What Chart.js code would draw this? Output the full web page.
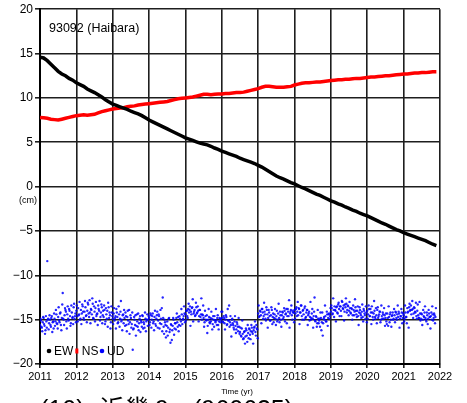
<!DOCTYPE html>
<html>
<head>
<meta charset="utf-8">
<script src="https://cdn.jsdelivr.net/npm/chart.js@4.4.1/dist/chart.umd.min.js"></script>
<style>
  html, body { margin: 0; padding: 0; background: #fff; overflow: hidden; }
  #wrap { position: relative; width: 467px; height: 403px; }
</style>
</head>
<body>
<div id="wrap"><canvas id="grafico" width="467" height="403"></canvas></div>
<script>
const estacao = "93092 (Haibara)";
const legenda = ["EW", "NS", "UD"];
const anosEixo = [2011, 2012, 2013, 2014, 2015, 2016, 2017, 2018, 2019, 2020, 2021, 2022];
const cmEixo = [20, 15, 10, 5, 0, -5, -10, -15, -20];

// EW / NS: one reading every 0.1 yr starting 2011.0
const inicio = 2011.0;
const passoHorizontal = 0.1;
const ewValores = [
  14.6, 14.5, 14.2, 13.8, 13.4, 13.0, 12.7, 12.5, 12.2, 12.0,
  11.7, 11.5, 11.3, 11.0, 10.8, 10.6, 10.35, 10.1, 9.8, 9.55,
  9.3, 9.15, 9.0, 8.85, 8.7, 8.5, 8.35, 8.2, 8.0, 7.75,
  7.5, 7.3, 7.1, 6.9, 6.7, 6.5, 6.3, 6.1, 5.9, 5.7,
  5.5, 5.35, 5.2, 5.05, 4.9, 4.8, 4.7, 4.55, 4.35, 4.2,
  4.0, 3.85, 3.7, 3.55, 3.4, 3.2, 3.05, 2.9, 2.75, 2.6,
  2.4, 2.2, 1.95, 1.7, 1.45, 1.2, 1.0, 0.85, 0.65, 0.45,
  0.3, 0.1, -0.1, -0.25, -0.45, -0.65, -0.85, -1.0, -1.2, -1.4,
  -1.6, -1.75, -1.95, -2.1, -2.3, -2.45, -2.65, -2.8, -3.0, -3.15,
  -3.3, -3.5, -3.7, -3.9, -4.1, -4.25, -4.45, -4.65, -4.85, -5.0,
  -5.2, -5.35, -5.5, -5.65, -5.8, -5.95, -6.1, -6.3, -6.5, -6.65
];
const nsValores = [
  7.8, 7.75, 7.7, 7.6, 7.55, 7.5, 7.6, 7.7, 7.8, 7.9,
  8.0, 8.05, 8.1, 8.05, 8.1, 8.15, 8.3, 8.45, 8.55, 8.65,
  8.75, 8.8, 8.85, 8.9, 9.0, 9.05, 9.1, 9.2, 9.25, 9.3,
  9.35, 9.4, 9.45, 9.5, 9.55, 9.6, 9.7, 9.8, 9.9, 9.95,
  10.0, 10.05, 10.1, 10.2, 10.3, 10.4, 10.4, 10.35, 10.4, 10.45,
  10.45, 10.5, 10.5, 10.55, 10.6, 10.6, 10.65, 10.75, 10.85, 10.95,
  11.05, 11.2, 11.3, 11.3, 11.25, 11.2, 11.2, 11.2, 11.25, 11.3,
  11.45, 11.55, 11.65, 11.7, 11.7, 11.75, 11.8, 11.8, 11.85, 11.9,
  11.95, 12.0, 12.05, 12.05, 12.1, 12.1, 12.15, 12.2, 12.2, 12.25,
  12.3, 12.35, 12.35, 12.4, 12.45, 12.5, 12.5, 12.55, 12.6, 12.65,
  12.7, 12.7, 12.75, 12.8, 12.8, 12.85, 12.85, 12.9, 12.95, 12.95
];

// UD: two interleaved sets, each one reading every 0.025 yr
const passoVertical = 0.025;
const udValores = [
  // 2011
  -15.6, -15.1, -15.9, -15.3, -14.8, -15.7, -16.2, -15.2, -8.4, -14.9,
  -15.4, -15.0, -15.8, -14.6, -15.3, -16.0, -14.9, -15.2, -14.4, -15.5,
  -14.7, -15.1, -14.3, -15.6, -14.8, -12.0, -15.0, -14.5, -13.9, -15.2,
  -14.4, -14.9, -13.8, -14.6, -15.4, -14.2, -14.7, -13.6, -14.9, -14.3,
  // 2012
  -14.0, -14.6, -13.7, -14.4, -15.0, -13.9, -14.3, -13.5, -14.8, -14.1,
  -13.6, -14.5, -14.0, -13.3, -14.7, -14.2, -13.8, -14.4, -13.2, -14.9,
  -14.1, -13.7, -14.6, -14.3, -13.4, -14.0, -15.1, -14.2, -13.6, -14.5,
  -14.7, -13.9, -15.2, -14.4, -14.0, -13.1, -14.8, -14.5, -15.3, -14.2,
  // 2013
  -14.9, -14.3, -15.1, -14.6, -13.8, -14.7, -15.3, -14.4, -14.9, -12.9,
  -15.0, -14.5, -15.4, -14.8, -14.2, -15.6, -14.7, -15.1, -13.9, -15.3,
  -14.8, -15.5, -18.4, -16.0, -15.0, -14.5, -15.7, -15.2, -14.3, -15.4,
  -14.6, -15.1, -15.8, -14.6, -15.3, -15.9, -14.9, -15.2, -14.4, -15.0,
  // 2014
  -14.8, -15.3, -14.5, -15.0, -14.3, -15.2, -14.7, -15.5, -14.9, -14.1,
  -15.1, -14.6, -15.4, -14.9, -13.7, -12.5, -15.8, -15.0, -15.6, -16.3,
  -15.2, -15.9, -14.8, -16.1, -15.5, -17.3, -15.7, -15.0, -16.0, -15.4,
  -14.8, -15.3, -14.7, -15.6, -14.9, -15.2, -14.4, -15.0, -14.6, -14.3,
  // 2015
  -14.4, -14.0, -14.6, -13.8, -14.2, -13.5, -14.1, -13.7, -12.7, -14.3,
  -13.9, -14.5, -13.6, -14.2, -14.0, -14.6, -13.9, -14.4, -15.0, -14.5,
  -14.8, -15.3, -14.6, -15.1, -16.5, -15.0, -14.7, -15.4, -15.2, -14.9,
  -15.5, -15.0, -14.6, -15.3, -15.1, -14.8, -15.6, -15.2, -14.9, -15.0,
  // 2016
  -14.8, -15.2, -14.6, -15.4, -15.0, -14.7, -15.5, -15.1, -13.4, -15.3,
  -15.6, -15.0, -15.4, -15.9, -15.2, -15.7, -16.1, -15.5, -16.3, -15.8,
  -16.4, -16.8, -16.0, -16.6, -17.1, -16.3, -16.9, -16.2, -17.5, -16.5,
  -16.0, -16.7, -16.3, -15.9, -16.6, -16.2, -15.8, -16.4, -15.6, -16.1,
  // 2017
  -14.3, -14.7, -14.0, -14.5, -13.8, -14.2, -14.6, -14.1, -14.9, -13.6,
  -14.4, -14.8, -14.2, -15.1, -14.5, -13.9, -14.7, -15.3, -14.4, -14.9,
  -14.6, -15.2, -14.3, -14.8, -14.1, -15.0, -14.5, -14.2, -14.7, -14.0,
  -14.4, -13.8, -14.6, -14.1, -12.8, -14.3, -13.9, -14.5, -14.0, -14.2,
  // 2018
  -13.9, -14.3, -13.6, -14.1, -14.5, -13.8, -14.2, -13.4, -14.6, -14.0,
  -14.4, -13.7, -14.8, -14.2, -13.9, -14.5, -14.1, -14.7, -15.0, -14.3,
  -14.9, -14.6, -12.5, -15.2, -14.7, -15.4, -14.9, -15.1, -15.8, -14.8,
  -15.3, -16.8, -14.9, -15.0, -14.6, -15.2, -14.4, -14.8, -14.3, -14.6,
  // 2019
  -14.1, -13.7, -14.3, -13.9, -13.5, -14.0, -13.6, -14.2, -13.3, -13.8,
  -13.5, -14.0, -12.9, -13.7, -13.4, -14.1, -13.6, -13.2, -13.9, -13.5,
  -14.0, -13.7, -14.3, -13.8, -14.5, -13.9, -14.1, -13.6, -14.4, -14.0,
  -14.6, -14.2, -13.9, -14.5, -14.1, -14.7, -13.8, -14.3, -14.9, -14.2,
  // 2020
  -14.0, -14.4, -13.8, -14.6, -14.2, -13.5, -14.7, -14.3, -14.0, -14.9,
  -14.5, -13.9, -14.8, -14.4, -14.1, -15.0, -14.6, -14.2, -14.9, -14.5,
  -14.8, -15.2, -14.3, -15.7, -14.7, -14.4, -15.0, -14.6, -14.2, -14.9,
  -14.5, -14.1, -14.8, -14.4, -14.7, -14.3, -14.9, -14.6, -14.2, -14.8,
  // 2021
  -14.5, -14.9, -14.2, -14.7, -13.7, -14.1, -13.6, -14.0, -13.4, -13.9,
  -13.8, -14.3, -13.7, -14.2, -14.6, -14.0, -14.5, -14.8, -14.3, -14.9,
  -14.4, -15.0, -14.6, -14.2, -14.8, -15.2, -14.5, -14.9, -14.3, -14.7,
  -14.6, -15.0, -14.4, -14.8, -14.5, -14.7
];
const udValoresB = [
  // 2011
  -14.9, -15.8, -16.3, -14.7, -15.5, -16.6, -14.6, -15.9, -15.0, -16.1,
  -14.5, -15.6, -14.8, -16.4, -15.2, -14.3, -15.7, -13.9, -15.4, -16.0,
  -13.6, -15.3, -14.2, -16.2, -13.3, -14.9, -15.6, -13.7, -14.1, -16.0,
  -13.5, -15.1, -14.0, -15.7, -13.4, -14.8, -15.5, -13.2, -14.6, -15.3,
  // 2012
  -13.4, -15.2, -14.5, -13.0, -14.9, -15.5, -13.3, -14.1, -15.0, -12.9,
  -14.6, -15.3, -13.1, -14.3, -12.8, -15.4, -13.9, -12.6, -14.8, -13.5,
  -15.2, -13.0, -14.4, -15.6, -13.8, -12.9, -14.7, -13.3, -15.4, -14.0,
  -13.4, -15.5, -13.7, -14.9, -15.8, -13.6, -14.2, -16.0, -13.5, -14.6,
  // 2013
  -15.5, -13.7, -14.8, -16.0, -14.2, -15.4, -13.5, -15.8, -14.1, -15.2,
  -16.2, -14.4, -13.9, -15.7, -14.6, -16.3, -14.0, -15.5, -16.6, -14.5,
  -15.9, -14.2, -16.1, -14.7, -15.6, -16.8, -14.4, -15.8, -16.2, -14.9,
  -16.4, -15.3, -14.5, -16.0, -15.5, -14.2, -16.3, -15.0, -15.7, -14.6,
  // 2014
  -15.6, -14.3, -15.9, -14.6, -15.4, -16.2, -14.0, -15.7, -14.5, -15.9,
  -14.4, -16.0, -13.9, -15.5, -16.3, -14.8, -16.6, -15.3, -17.0, -15.7,
  -16.8, -14.9, -16.4, -17.6, -15.6, -16.2, -14.8, -16.7, -15.4, -16.1,
  -14.3, -15.8, -16.3, -14.6, -15.7, -13.8, -15.5, -14.9, -13.5, -15.3,
  // 2015
  -15.1, -14.0, -14.8, -13.2, -13.9, -15.7, -14.4, -13.6, -15.2, -14.1,
  -14.6, -13.1, -14.3, -13.5, -15.2, -13.9, -14.7, -12.6, -14.4, -13.4,
  -15.8, -14.0, -15.0, -14.5, -15.7, -13.8, -15.3, -14.8, -14.1, -16.1,
  -14.6, -15.8, -15.1, -13.8, -15.6, -14.5, -16.1, -14.8, -15.3, -14.1,
  // 2016
  -14.1, -15.3, -14.8, -16.1, -14.5, -15.6, -13.8, -15.1, -15.8, -14.6,
  -16.9, -14.9, -15.6, -16.1, -14.6, -16.5, -15.3, -15.8, -14.8, -16.6,
  -15.9, -16.9, -15.1, -17.2, -16.4, -17.7, -16.0, -16.8, -15.6, -17.1,
  -16.1, -17.2, -15.6, -16.4, -17.7, -15.9, -15.2, -16.8, -16.0, -17.1,
  // 2017
  -13.4, -14.6, -14.1, -15.4, -13.8, -14.9, -13.1, -14.4, -15.1, -13.9,
  -15.9, -13.9, -14.6, -15.1, -13.6, -15.5, -14.3, -14.8, -13.8, -15.6,
  -14.0, -15.0, -13.2, -15.3, -14.5, -15.8, -14.1, -14.9, -13.7, -15.2,
  -14.3, -15.4, -13.8, -14.6, -15.9, -14.1, -13.4, -15.0, -14.2, -15.3,
  // 2018
  -14.9, -13.8, -14.6, -13.0, -13.7, -15.5, -14.2, -13.4, -15.0, -13.9,
  -15.0, -13.5, -14.7, -13.9, -15.6, -14.3, -15.1, -13.0, -14.8, -13.8,
  -15.9, -14.1, -15.1, -14.6, -15.8, -13.9, -15.4, -14.9, -14.2, -16.2,
  -14.2, -15.4, -14.7, -13.4, -15.2, -14.1, -15.7, -14.4, -14.9, -13.7,
  // 2019
  -13.4, -14.4, -12.6, -14.7, -13.9, -15.2, -13.5, -14.3, -13.1, -14.6,
  -13.5, -14.6, -13.0, -13.8, -15.1, -13.3, -12.6, -14.2, -13.4, -14.5,
  -13.0, -14.2, -13.7, -15.0, -13.4, -14.5, -12.7, -14.0, -14.7, -13.5,
  -15.6, -13.6, -14.3, -14.8, -13.3, -15.2, -14.0, -14.5, -13.5, -15.3,
  // 2020
  -14.9, -13.4, -14.6, -13.8, -15.5, -14.2, -15.0, -12.9, -14.7, -13.7,
  -15.4, -13.6, -14.6, -14.1, -15.3, -13.4, -14.9, -14.4, -13.7, -15.7,
  -14.3, -15.5, -14.8, -13.5, -15.3, -14.2, -15.8, -14.5, -15.0, -13.8,
  -15.3, -14.2, -15.0, -13.4, -14.1, -15.9, -14.6, -13.8, -15.4, -14.3,
  // 2021
  -15.2, -13.4, -14.7, -15.4, -14.2, -15.9, -13.2, -13.9, -14.4, -12.9,
  -14.8, -13.6, -14.1, -13.1, -14.9, -13.3, -14.8, -13.0, -15.1, -14.3,
  -15.6, -13.9, -14.7, -13.5, -15.0, -14.2, -15.5, -13.9, -14.7, -16.0,
  -14.2, -13.5, -15.1, -14.3, -15.4, -13.7
];

const cores = { EW: "#000000", NS: "#ff0000", UD: "#0000ff" };
const fonte = "'Liberation Sans', Arial, 'Noto Sans CJK JP', sans-serif";

function pontos(valores, passo, deslocamento = 0) {
  return valores.map((v, i) => ({ x: inicio + deslocamento + i * passo, y: v }));
}

// labels drawn straight on the canvas: station name, unit, axis title, legend, caption
const textos = {
  id: "textos",
  afterDraw(chart) {
    const ctx = chart.ctx;
    const area = chart.chartArea;
    const y = chart.scales.y;
    ctx.save();
    ctx.fillStyle = "#000";
    ctx.textBaseline = "middle";

    ctx.font = "12.5px " + fonte;
    ctx.textAlign = "left";
    ctx.fillText(estacao, area.left + 9, area.top + 19);

    ctx.font = "9px " + fonte;
    ctx.textAlign = "center";
    ctx.fillText("(cm)", area.left - 12, y.getPixelForValue(0) + 14);

    ctx.font = "8px " + fonte;
    ctx.fillText("Time (yr)", (area.left + area.right) / 2 - 3, area.bottom + 28);

    // legend row inside the plot, bottom-left
    ctx.font = "12px " + fonte;
    ctx.textAlign = "left";
    const ly = area.bottom - 13;
    let lx = area.left + 9;
    legenda.forEach(nome => {
      ctx.fillStyle = cores[nome];
      if (nome === "NS") {
        ctx.fillRect(lx - 1.5, ly - 2.5, 3, 5);
      } else {
        ctx.beginPath();
        ctx.arc(lx, ly, 2.3, 0, Math.PI * 2);
        ctx.fill();
      }
      ctx.fillStyle = "#000";
      ctx.fillText(nome, lx + 5, ly + 0.5);
      lx += 5 + ctx.measureText(nome).width + 3.5;
    });

    // caption under the figure
    ctx.font = "25px " + fonte;
    ctx.textBaseline = "alphabetic";
    ctx.fillText("(10)", 40, 418);
    ctx.fillText("近畿", 100, 418);
    ctx.fillText("9", 155, 418);
    ctx.fillText("(960625)", 193, 418);
    ctx.restore();
  }
};

const corGrade = "#1e1e1e";
const estiloUD = {
  showLine: false,
  backgroundColor: "rgba(0,0,255,0.85)",
  borderWidth: 0,
  pointRadius: 1.2
};

const ctx = document.getElementById("grafico").getContext("2d");
const chart = new Chart(ctx, {
  type: "scatter",
  data: {
    datasets: [
      {
        label: "EW",
        data: pontos(ewValores, passoHorizontal),
        showLine: true,
        borderColor: cores.EW,
        borderWidth: 3.5,
        pointRadius: 0,
        order: 1
      },
      {
        label: "NS",
        data: pontos(nsValores, passoHorizontal),
        showLine: true,
        borderColor: cores.NS,
        borderWidth: 3.5,
        pointRadius: 0,
        order: 2
      },
      { label: "UD", data: pontos(udValores, passoVertical), order: 3, ...estiloUD },
      { label: "UD", data: pontos(udValoresB, passoVertical, passoVertical / 2), order: 4, ...estiloUD }
    ]
  },
  options: {
    responsive: false,
    animation: false,
    devicePixelRatio: 1,
    layout: { padding: { top: 8, right: 27, left: 0, bottom: 0 } },
    plugins: {
      legend: { display: false },
      tooltip: { enabled: false }
    },
    scales: {
      x: {
        type: "linear",
        min: 2011,
        max: 2022,
        afterBuildTicks: s => { s.ticks = anosEixo.map(v => ({ value: v })); },
        afterFit: s => { s.height = 39; },
        grid: { color: corGrade, lineWidth: 1.6, tickLength: 4 },
        border: { display: true, color: "#000", width: 2 },
        ticks: {
          color: "#000",
          padding: 2,
          maxRotation: 0,
          font: { family: fonte, size: 11 },
          callback: v => String(v)
        }
      },
      y: {
        type: "linear",
        min: -20,
        max: 20,
        afterBuildTicks: s => { s.ticks = cmEixo.map(v => ({ value: v })); },
        afterFit: s => { s.width = 40; },
        grid: { color: corGrade, lineWidth: 1.6, tickLength: 5 },
        border: { display: true, color: "#000", width: 2 },
        ticks: {
          color: "#000",
          padding: 2,
          font: { family: fonte, size: 12 },
          callback: v => String(v).replace("-", "\u2212")
        }
      }
    }
  },
  plugins: [textos]
});
</script>
</body>
</html>
